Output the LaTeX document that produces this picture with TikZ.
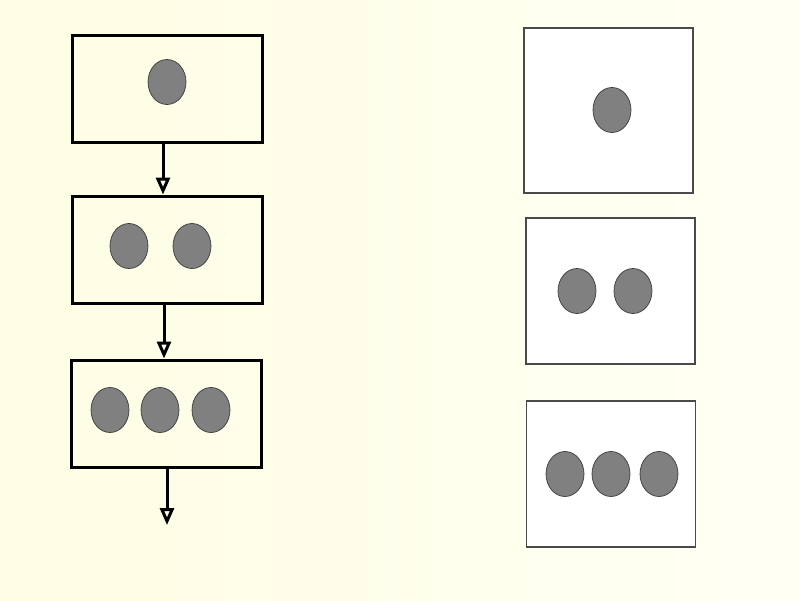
\documentclass[tikz,border=0pt]{standalone}
\usepackage{tikz}
\usetikzlibrary{positioning,arrows.meta,shapes.geometric}
\definecolor{BGPale}{HTML}{FEFEE4}
\definecolor{BGLight}{HTML}{FFFFF4}
\definecolor{DotGray}{HTML}{808080}
\definecolor{DotEdge}{HTML}{3A3A3A}
\definecolor{PlainEdge}{HTML}{4A4A4A}

\begin{document}
\begin{tikzpicture}[
  x=1pt, y=-1pt,
  flowbox/.style={draw=black, line width=3pt, rectangle, inner sep=0pt, minimum width=190pt, minimum height=107pt},
  plainbox/.style={draw=PlainEdge, fill=white, line width=1.3pt, rectangle, inner sep=0pt, minimum width=169pt},
  dot/.style={draw=DotEdge, fill=DotGray, line width=0.7pt, ellipse, inner sep=0pt, minimum width=38pt, minimum height=45pt},
  flowarrow/.style={-{Triangle[open, length=17pt, width=14pt, line width=3pt]}, line width=3pt, black}
]
% background
\shade[left color=BGPale, right color=BGLight] (0,0) rectangle (800,600);
\useasboundingbox (0,0) rectangle (800,600);

% left column: boxes joined by arrows
\node[flowbox] (one) at (167,88.5) {};
\node[flowbox] (two) at (167,249.5) {};
\node[flowbox] (three) at (166,413.5) {};
\node[dot] (oneA) at (167,82) {};
\node[dot] (twoA) at (129,246) {};
\node[dot] (twoB) at (192,246) {};
\node[dot] (threeA) at (110,410) {};
\node[dot] (threeB) at (160,410) {};
\node[dot] (threeC) at (211,410) {};
\coordinate (out) at (167,525);
\draw[flowarrow] (one.south -| 163,0) -- (two.north -| 163,0);
\draw[flowarrow] (two.south -| 164,0) -- (three.north -| 164,0);
\draw[flowarrow] (three.south -| 167,0) -- (out);

% right column: plain boxes
\node[plainbox, minimum height=165pt] (sone) at (608.5,110.5) {};
\node[plainbox, minimum height=146pt] (stwo) at (610.5,291) {};
\node[plainbox, minimum height=146pt] (sthree) at (611,474) {};
\node[dot] (soneA) at (612,110) {};
\node[dot] (stwoA) at (577,291) {};
\node[dot] (stwoB) at (633,291) {};
\node[dot] (sthreeA) at (565,474) {};
\node[dot] (sthreeB) at (611,474) {};
\node[dot] (sthreeC) at (659,474) {};
\end{tikzpicture}
\end{document}
